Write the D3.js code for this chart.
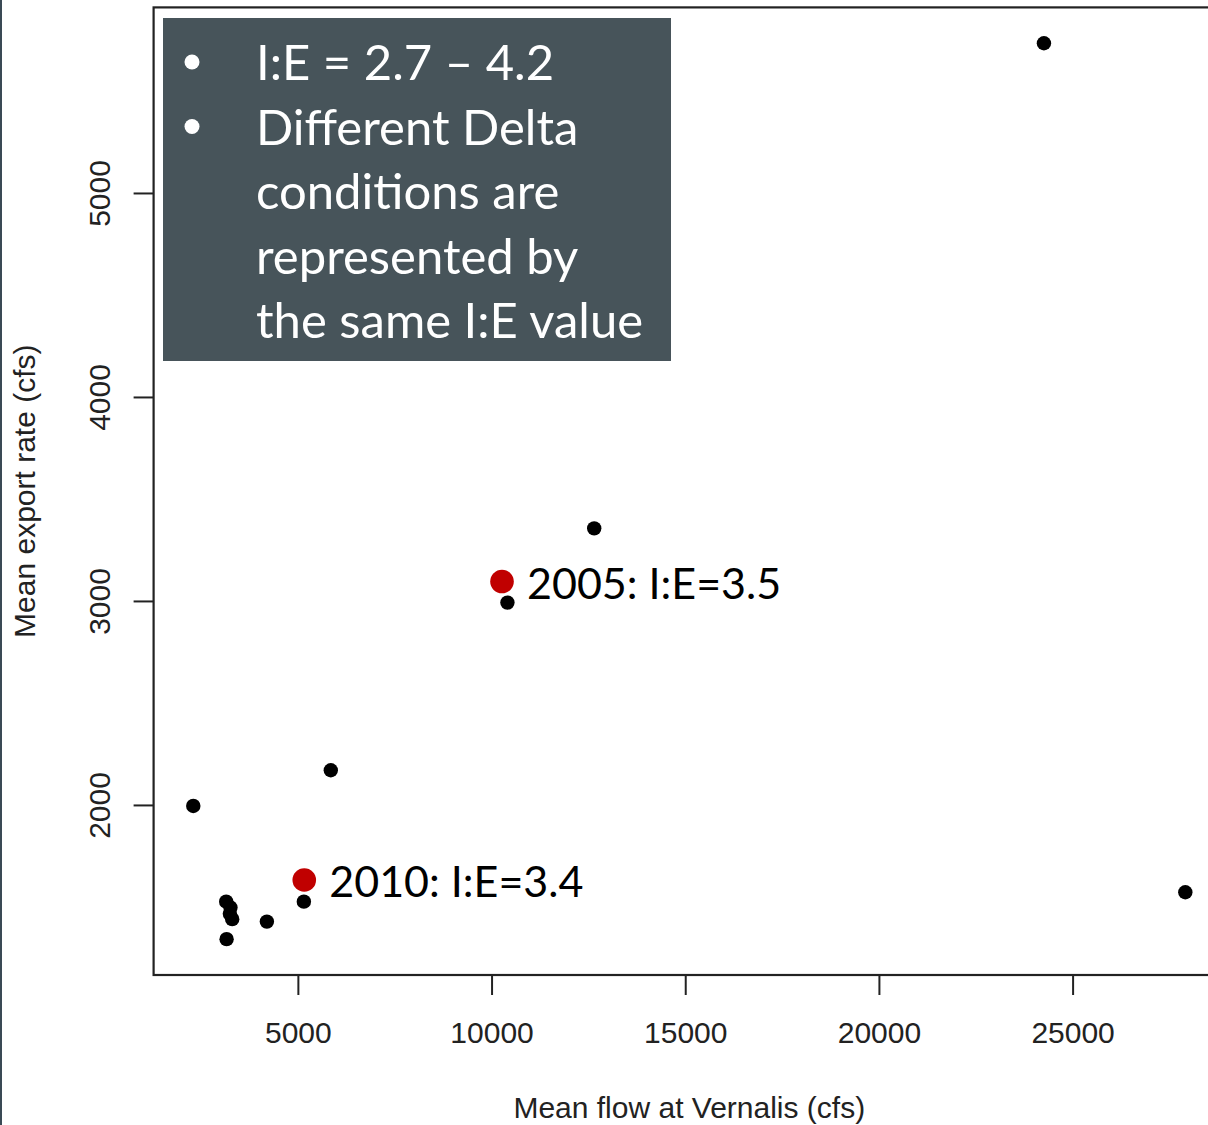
<!DOCTYPE html>
<html>
<head>
<meta charset="utf-8">
<script src="https://cdn.jsdelivr.net/npm/d3@7"></script>
<style>
  html, body { margin: 0; padding: 0; background: #fff; }
  svg { display: block; }
  .tick text { font-family: "Liberation Sans", Arial, sans-serif; }
</style>
</head>
<body>
<svg id="chart" width="1208" height="1125"></svg>
<script>
// Mean flow at Vernalis (cfs) and mean export rate (cfs), one point per year
var flow = [2300, 5850, 3150, 3260, 3245, 3305, 3160, 4200, 5155, 12650, 10410, 24260, 27910];
var exports = [1995, 2170, 1526, 1497, 1466, 1440, 1342, 1428, 1526, 3356, 2992, 5734, 1572];

// Highlighted years
var hlYears = ['2005', '2010'];
var hlFlow = [10270, 5165];
var hlExports = [3095, 1632];
var hlLabels = ['2005: I:E=3.5', '2010: I:E=3.4'];

var xTicks = [5000, 10000, 15000, 20000, 25000];
var yTicks = [2000, 3000, 4000, 5000];

var boxLines = ['I:E = 2.7 \u2013 4.2', 'Different Delta', 'conditions are', 'represented by', 'the same I:E value'];
var boxBullets = [true, true, false, false, false];

(function draw() {

  var svg = d3.select('#chart');
  var plot = { left: 153.6, right: 1225, top: 7.4, bottom: 975 };

  // R style range: data extent padded by 4%
  function pad(ext) {
    var d = (ext[1] - ext[0]) * 0.04;
    return [ext[0] - d, ext[1] + d];
  }

  var xScale = d3.scaleLinear()
    .domain(pad(d3.extent(flow.concat(hlFlow))))
    .range([plot.left, plot.right]);

  var yScale = d3.scaleLinear()
    .domain(pad(d3.extent(exports.concat(hlExports))))
    .range([plot.bottom, plot.top]);

  // slide edge on the left
  svg.append('rect')
    .attr('x', 0).attr('y', 0)
    .attr('width', 2).attr('height', 1125)
    .attr('fill', '#3a4a55');

  // Axes
  var xAxis = d3.axisBottom(xScale).tickValues(xTicks).tickSize(20).tickPadding(0).tickFormat(d3.format('d'));
  var gx = svg.append('g')
    .attr('transform', 'translate(0,' + plot.bottom + ')')
    .call(xAxis);
  gx.select('.domain').remove();
  gx.selectAll('.tick line').attr('stroke', '#222').attr('stroke-width', 2);
  gx.selectAll('.tick text')
    .attr('y', 68).attr('dy', 0)
    .attr('font-size', 30).attr('fill', '#222');

  var yAxis = d3.axisLeft(yScale).tickValues(yTicks).tickSize(20).tickFormat(d3.format('d'));
  var gy = svg.append('g')
    .attr('transform', 'translate(' + plot.left + ',0)')
    .call(yAxis);
  gy.select('.domain').remove();
  gy.selectAll('.tick line').attr('stroke', '#222').attr('stroke-width', 2);
  gy.selectAll('.tick text')
    .attr('x', null).attr('dy', null)
    .attr('transform', 'translate(-44,0) rotate(-90)')
    .attr('text-anchor', 'middle')
    .attr('font-size', 30).attr('fill', '#222');

  // Plot frame
  svg.append('rect')
    .attr('x', plot.left).attr('y', plot.top)
    .attr('width', plot.right - plot.left).attr('height', plot.bottom - plot.top)
    .attr('fill', 'none').attr('stroke', '#222').attr('stroke-width', 2.2);

  // Axis titles
  svg.append('text')
    .attr('x', (plot.left + plot.right) / 2).attr('y', 1118)
    .attr('text-anchor', 'middle')
    .attr('font-family', '"Liberation Sans", Arial, sans-serif')
    .attr('font-size', 30).attr('fill', '#222')
    .text('Mean flow at Vernalis (cfs)');

  svg.append('text')
    .attr('transform', 'translate(35,' + (plot.top + plot.bottom) / 2 + ') rotate(-90)')
    .attr('text-anchor', 'middle')
    .attr('font-family', '"Liberation Sans", Arial, sans-serif')
    .attr('font-size', 30).attr('fill', '#222')
    .text('Mean export rate (cfs)');

  // Points
  svg.append('g').selectAll('circle')
      .data(flow)
      .enter()
    .append('circle')
      .attr('cx', function (d) { return xScale(d); })
      .attr('cy', function (d, i) { return yScale(exports[i]); })
      .attr('r', 7.2)
      .attr('fill', '#000');

  var hl = svg.append('g');
  hl.selectAll('circle')
      .data(hlYears)
      .enter()
    .append('circle')
      .attr('cx', function (d, i) { return xScale(hlFlow[i]); })
      .attr('cy', function (d, i) { return yScale(hlExports[i]); })
      .attr('r', 11.8)
      .attr('fill', '#c00000');

  hl.selectAll('text')
      .data(hlYears)
      .enter()
    .append('text')
      .attr('x', function (d, i) { return xScale(hlFlow[i]) + 25; })
      .attr('y', function (d, i) { return yScale(hlExports[i]) + 17; })
      .attr('font-family', '"Gill Sans", "Gill Sans MT", Lato, sans-serif')
      .attr('font-size', 43)
      .attr('fill', '#000')
      .text(function (d, i) { return hlLabels[i]; });

  // Callout box
  var box = svg.append('g');
  box.append('rect')
    .attr('x', 163).attr('y', 18)
    .attr('width', 508).attr('height', 343)
    .attr('fill', '#47545a');

  box.selectAll('text.line')
      .data(boxLines)
      .enter()
    .append('text')
      .attr('class', 'line')
      .attr('x', 256)
      .attr('y', function (d, i) { return 80 + i * 64.5; })
      .attr('font-family', '"Gill Sans", "Gill Sans MT", Lato, sans-serif')
      .attr('font-size', 49)
      .attr('fill', '#fff')
      .text(function (d) { return d; });

  box.selectAll('circle')
      .data(boxLines.filter(function (d, i) { return boxBullets[i]; }))
      .enter()
    .append('circle')
      .attr('cx', 192)
      .attr('cy', function (d, i) { return 62 + i * 64.5; })
      .attr('r', 7.5)
      .attr('fill', '#fff');
})();
</script>
</body>
</html>
